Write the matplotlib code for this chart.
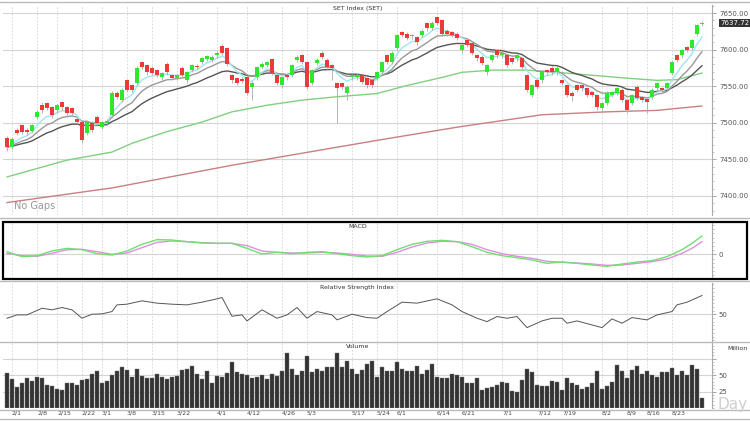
import matplotlib
matplotlib.use("Agg")
import matplotlib.pyplot as plt
import matplotlib.transforms as mtransforms
from matplotlib.patches import Rectangle
from matplotlib.lines import Line2D
from matplotlib.ticker import MultipleLocator
import pandas as pd

# daily candles (one per trading day)
opens = [7479, 7467, 7490, 7497, 7490, 7489, 7508, 7525, 7527, 7521,
         7517, 7528, 7521, 7520, 7505, 7501, 7486, 7500, 7508, 7494,
         7500, 7510, 7541, 7531, 7558, 7551, 7554, 7583, 7579, 7575,
         7572, 7562, 7581, 7565, 7561, 7575, 7558, 7572, 7578, 7583,
         7587, 7586, 7592, 7605, 7602, 7565, 7561, 7560, 7562, 7549,
         7562, 7576, 7579, 7587, 7565, 7551, 7565, 7565, 7586, 7592,
         7583, 7554, 7582, 7596, 7586, 7579, 7554, 7554, 7541, 7562,
         7562, 7565, 7561, 7558, 7561, 7569, 7592, 7583, 7602, 7624,
         7622, 7618, 7617, 7620, 7636, 7630, 7644, 7640, 7626, 7624,
         7622, 7599, 7613, 7609, 7592, 7590, 7569, 7586, 7599, 7592,
         7592, 7588, 7588, 7588, 7565, 7538, 7558, 7558, 7572, 7575,
         7569, 7558, 7551, 7541, 7551, 7551, 7547, 7542, 7538, 7520,
         7527, 7538, 7541, 7545, 7531, 7527, 7549, 7535, 7532, 7535,
         7547, 7547, 7547, 7568, 7592, 7592, 7603, 7602, 7622, 7635]
closes = [7467, 7478, 7486, 7488, 7487, 7497, 7515, 7517, 7520, 7510,
          7524, 7521, 7514, 7513, 7501, 7477, 7501, 7490, 7500, 7501,
          7503, 7541, 7535, 7545, 7545, 7545, 7575, 7576, 7569, 7568,
          7565, 7568, 7569, 7561, 7565, 7565, 7569, 7579, 7576, 7588,
          7591, 7590, 7596, 7596, 7581, 7558, 7554, 7557, 7541, 7555,
          7576, 7581, 7583, 7568, 7554, 7562, 7562, 7579, 7590, 7583,
          7549, 7572, 7586, 7590, 7576, 7575, 7547, 7549, 7549, 7565,
          7566, 7556, 7551, 7551, 7569, 7583, 7583, 7596, 7620, 7620,
          7616, 7620, 7610, 7626, 7629, 7637, 7637, 7622, 7622, 7620,
          7616, 7606, 7606, 7595, 7588, 7582, 7579, 7592, 7592, 7596,
          7579, 7583, 7592, 7576, 7545, 7551, 7549, 7569, 7569, 7569,
          7575, 7554, 7538, 7537, 7545, 7547, 7538, 7538, 7521, 7527,
          7541, 7542, 7547, 7531, 7517, 7538, 7534, 7531, 7529, 7545,
          7554, 7545, 7554, 7583, 7586, 7599, 7600, 7613, 7633, 7637]
highs = [7482, 7481, 7493, 7499, 7493, 7499, 7517, 7528, 7529, 7523,
         7526, 7530, 7523, 7522, 7507, 7503, 7504, 7502, 7510, 7503,
         7505, 7543, 7544, 7547, 7560, 7553, 7577, 7585, 7581, 7577,
         7574, 7570, 7583, 7567, 7567, 7577, 7571, 7581, 7580, 7590,
         7593, 7592, 7598, 7608, 7604, 7567, 7563, 7562, 7564, 7557,
         7578, 7583, 7585, 7589, 7567, 7564, 7567, 7581, 7592, 7594,
         7585, 7574, 7588, 7598, 7588, 7581, 7556, 7556, 7551, 7567,
         7568, 7567, 7563, 7560, 7571, 7585, 7594, 7598, 7622, 7626,
         7624, 7622, 7619, 7628, 7638, 7639, 7646, 7642, 7628, 7626,
         7624, 7608, 7615, 7611, 7594, 7592, 7581, 7594, 7601, 7598,
         7594, 7590, 7594, 7590, 7567, 7553, 7560, 7571, 7574, 7577,
         7577, 7560, 7553, 7543, 7553, 7553, 7549, 7544, 7540, 7529,
         7543, 7544, 7549, 7547, 7533, 7540, 7551, 7537, 7534, 7547,
         7556, 7549, 7556, 7585, 7594, 7601, 7605, 7615, 7635, 7639]
lows = [7462, 7464, 7483, 7485, 7484, 7486, 7505, 7514, 7517, 7507,
        7514, 7518, 7511, 7510, 7498, 7473, 7483, 7487, 7497, 7491,
        7497, 7507, 7532, 7528, 7542, 7542, 7551, 7573, 7566, 7565,
        7562, 7559, 7566, 7558, 7558, 7562, 7555, 7569, 7573, 7580,
        7584, 7583, 7589, 7593, 7578, 7555, 7551, 7554, 7538, 7531,
        7559, 7573, 7576, 7565, 7551, 7548, 7559, 7562, 7583, 7580,
        7546, 7551, 7579, 7587, 7573, 7558, 7500, 7546, 7531, 7559,
        7559, 7553, 7548, 7548, 7558, 7566, 7580, 7580, 7599, 7617,
        7613, 7615, 7607, 7617, 7626, 7627, 7634, 7619, 7619, 7617,
        7613, 7596, 7603, 7592, 7585, 7579, 7566, 7583, 7589, 7589,
        7576, 7580, 7585, 7573, 7542, 7535, 7546, 7555, 7566, 7566,
        7566, 7551, 7535, 7530, 7542, 7544, 7535, 7535, 7518, 7517,
        7524, 7535, 7538, 7528, 7514, 7524, 7531, 7528, 7513, 7532,
        7544, 7542, 7544, 7565, 7583, 7589, 7597, 7599, 7619, 7632]

# volume in millions
volume = [53.5, 43.5, 32, 37.5, 46, 41, 47.5, 46, 34.5, 33.5,
          29.5, 27, 38.5, 38.5, 34.5, 42.5, 43.5, 52, 56, 38.5,
          41, 50, 56, 62.5, 57.5, 47.5, 59.5, 48.5, 46, 45,
          52, 47.5, 44.5, 47, 48.5, 57.5, 59.5, 64.5, 52.5, 43.5,
          56, 37.5, 48.5, 47, 53.5, 70, 55.5, 52.5, 50, 46,
          47, 50, 44.5, 52, 49.5, 57, 84.5, 59.5, 51, 56,
          78.5, 55, 59.5, 56, 62.5, 62.5, 84.5, 62.5, 72, 59.5,
          52, 57.5, 67.5, 71, 47.5, 62.5, 56, 56, 70, 59.5,
          56, 57, 64.5, 52, 58.5, 67.5, 47, 46, 46, 52,
          51, 47.5, 38.5, 38.5, 45, 27, 31, 32.5, 34.5, 39.5,
          38.5, 25.5, 25, 42.5, 59.5, 54.5, 35, 33.5, 33.5, 41,
          39.5, 28, 45, 37.5, 34.5, 29.5, 32.5, 37.5, 56, 29.5,
          33.5, 39.5, 65, 56, 46, 58.5, 64.5, 52.5, 57, 50,
          47, 55, 55, 61, 51, 57, 51, 65, 59.5, 15]

# long moving averages (50 / 200 day) read at a few points
ma50_bar = [0, 12, 21, 25, 32, 39, 45, 52, 59, 65, 74, 80, 87, 91, 97, 104, 110, 117, 124, 130, 134, 139]
ma50_val = [7426, 7449, 7460, 7472, 7488, 7501, 7515, 7524, 7531, 7535, 7540, 7551, 7562, 7569, 7572,
            7572, 7569, 7565, 7561, 7558, 7559, 7568]
ma200_bar = [0, 21, 45, 74, 90, 107, 120, 130, 139]
ma200_val = [7391, 7411, 7442, 7476, 7494, 7511, 7515, 7517, 7523]

# MACD panel
macd_bar = [0, 3, 6, 9, 12, 15, 18, 21, 24, 27, 30, 33, 36, 39, 42, 45, 48, 51, 54, 57, 60, 63, 66, 69,
            72, 75, 78, 81, 84, 87, 90, 93, 96, 99, 102, 105, 108, 111, 114, 117, 120, 123, 126, 129,
            132, 135, 137, 139]
macd_val = [3.2, -2.8, -1.6, 4.0, 7.2, 5.6, 0.8, -0.8, 4.0, 12.0, 17.6, 17.2, 15.2, 13.6, 13.2, 13.2,
            7.2, 0.4, 2.4, 0.8, 2.4, 3.2, 0.8, -1.6, -3.2, -1.6, 5.6, 12.0, 15.6, 16.8, 15.2, 9.2,
            2.4, -1.6, -4.0, -6.8, -10.8, -9.2, -10.8, -12.8, -14.4, -11.6, -9.2, -7.6, -2.8, 5.6,
            13.2, 22.0]
signal_val = [1.2, -1.6, -2.4, 1.2, 5.6, 6.0, 3.2, 0.0, 1.6, 8.0, 14.4, 16.0, 15.2, 14.0, 13.2, 13.2,
              10.4, 4.0, 2.4, 1.6, 1.6, 2.4, 1.6, 0.0, -2.0, -2.4, 2.4, 8.8, 13.6, 15.6, 15.2, 12.0,
              5.6, 0.8, -2.4, -4.8, -8.4, -9.6, -10.4, -11.6, -13.2, -12.8, -10.8, -8.8, -5.6, 1.2,
              7.2, 15.2]

# RSI panel
rsi_bar = [0, 2, 4, 7, 9, 11, 13, 15, 17, 19, 21, 22, 24, 27, 30, 33, 36, 39, 42, 43, 45, 47, 48,
           51, 54, 56, 58, 60, 62, 65, 66, 69, 72, 74, 76, 79, 82, 86, 89, 91, 94, 96, 98, 100, 102,
           104, 107, 109, 111, 112, 114, 117, 119, 121, 123, 125, 128, 130, 133, 134, 136, 139]
rsi_val = [44.6, 49.1, 49.1, 58.1, 55.9, 59.0, 55.9, 44.6, 50.0, 50.5, 53.6, 62.6, 63.5, 68.0, 64.9,
           63.5, 62.6, 66.2, 70.7, 72.5, 47.3, 49.1, 41.0, 55.9, 44.6, 49.1, 59.0, 44.6, 53.6, 49.1,
           42.4, 50.0, 45.5, 44.6, 53.6, 66.2, 64.9, 70.7, 62.6, 53.6, 44.6, 40.1, 46.9, 44.6, 46.9,
           32.0, 41.0, 44.6, 44.6, 37.9, 41.0, 35.6, 32.0, 43.7, 37.9, 45.5, 42.4, 49.1, 53.6, 62.6,
           66.2, 75.2]

# date ticks (bar index) and their labels
tick_bars = [1, 6, 10, 15, 19, 24, 29, 34, 42, 48, 55, 60, 69, 74, 78, 86, 91, 99, 106, 111, 119, 124, 128, 133]
tick_labels = ["2/1", "2/8", "2/15", "2/22", "3/1", "3/8", "3/15", "3/22", "4/1", "4/12", "4/26", "5/3",
               "5/17", "5/24", "6/1", "6/14", "6/21", "7/1", "7/12", "7/19", "8/2", "8/9", "8/16", "8/23"]

last_price = "7637.72"

W, H = 750, 422
fig = plt.figure(figsize=(7.5, 4.22), dpi=100)
fig.patch.set_facecolor("white")

def px_axes(top, bottom):
    # axes in pixel rows of the reference picture
    return fig.add_axes([3 / W, 1 - bottom / H, (712 - 3) / W, (bottom - top) / H])

ax_p = px_axes(5, 215)
ax_m = px_axes(222, 278)
ax_r = px_axes(283, 341)
ax_v = px_axes(343, 408)

grid_col = "#d4d4d4"
lab_col = "#555555"

for ax in (ax_p, ax_m, ax_r, ax_v):
    ax.set_xlim(-0.8, 141)
    for s in ("left", "top", "bottom"):
        ax.spines[s].set_visible(False)
    ax.spines["right"].set_color("#aaaaaa")
    ax.spines["right"].set_linewidth(0.8)
    ax.yaxis.tick_right()
    ax.tick_params(axis="y", which="major", length=3, width=0.6, color="#999999",
                   labelsize=5, labelcolor=lab_col, pad=2)
    ax.tick_params(axis="y", which="minor", length=1.5, width=0.5, color="#aaaaaa")
    ax.tick_params(axis="x", length=0, labelbottom=False)
    ax.set_xticks(tick_bars)
    ax.grid(axis="x", color=grid_col, linestyle=(0, (2, 2)), linewidth=0.6)
    ax.grid(axis="y", color=grid_col, linestyle="-", linewidth=0.8)
    ax.set_axisbelow(True)

# ---- price panel ----
df = pd.DataFrame({"o": opens, "c": closes, "h": highs, "l": lows})
df["ma5"] = df["c"].ewm(span=5, adjust=False).mean()
df["ma10"] = df["c"].ewm(span=10, adjust=False).mean()
df["ma20"] = df["c"].ewm(span=20, adjust=False).mean()
xs = list(range(len(df)))

ax_p.plot(ma200_bar, ma200_val, color="#c98080", lw=1.0)
ax_p.plot(ma50_bar, ma50_val, color="#80d080", lw=1.0)
ax_p.plot(xs, df["ma20"], color="#555555", lw=1.0)
ax_p.plot(xs, df["ma10"], color="#999999", lw=1.0)
ax_p.plot(xs, df["ma5"], color="#9fe6f0", lw=1.0)

ax_p.vlines(xs, df["l"], df["h"], color="#aaaaaa", lw=0.6, zorder=3)
up = df["c"] >= df["o"]
body_bottom = df[["o", "c"]].min(axis=1)
body_h = (df["c"] - df["o"]).abs().clip(lower=1.0)
colors = ["#2ee82e" if u else "#ec3a3a" for u in up]
ax_p.bar(xs, body_h, bottom=body_bottom, width=0.65, color=colors, zorder=4, linewidth=0)

ax_p.set_ylim(7374, 7661)
ax_p.set_yticks([7400, 7450, 7500, 7550, 7600, 7650])
ax_p.set_yticklabels([f"{v:.2f}" for v in [7400, 7450, 7500, 7550, 7600, 7650]])
ax_p.yaxis.set_minor_locator(MultipleLocator(10))
ax_p.text(0.5, 0.995, "SET Index (SET)", transform=ax_p.transAxes, ha="center", va="top",
          fontsize=4.5, color="#333333")
ax_p.text(0.015, 0.02, "No Gaps", transform=ax_p.transAxes, ha="left", va="bottom",
          fontsize=7, color="#999999")
trans = mtransforms.blended_transform_factory(ax_p.transAxes, ax_p.transData)
ax_p.text(1.012, closes[-1], last_price, transform=trans, ha="left", va="center", fontsize=5,
          color="white", bbox=dict(boxstyle="square,pad=0.15", fc="#333333", ec="none"))

# ---- MACD panel ----
ax_m.plot(macd_bar, signal_val, color="#e08ee0", lw=1.0)
ax_m.plot(macd_bar, macd_val, color="#6ee06e", lw=1.0)
ax_m.set_ylim(-28.4, 38.8)
ax_m.set_yticks([0])
ax_m.set_yticklabels(["0"])
ax_m.yaxis.set_minor_locator(MultipleLocator(5))
ax_m.text(0.5, 0.96, "MACD", transform=ax_m.transAxes, ha="center", va="top",
          fontsize=4.5, color="#333333")

# ---- RSI panel ----
ax_r.plot(rsi_bar, rsi_val, color="#555555", lw=0.7)
ax_r.set_ylim(14, 92)
ax_r.set_yticks([50])
ax_r.set_yticklabels(["50"])
ax_r.yaxis.set_minor_locator(MultipleLocator(5))
ax_r.text(0.5, 0.96, "Relative Strength Index", transform=ax_r.transAxes, ha="center", va="top",
          fontsize=4.5, color="#333333")

# ---- volume panel ----
ax_v.bar(xs, volume, width=0.8, color="#333333", edgecolor="#777777", linewidth=0.3)
ax_v.set_ylim(0, 99)
ax_v.set_yticks([25, 50, 75])
ax_v.set_yticklabels(["25", "50", ""])
ax_v.yaxis.set_minor_locator(MultipleLocator(5))
ax_v.text(0.5, 0.98, "Volume", transform=ax_v.transAxes, ha="center", va="top",
          fontsize=4.5, color="#333333")
ax_v.tick_params(axis="x", labelbottom=True, labelsize=4.5, labelcolor="#444444", pad=2)
ax_v.set_xticklabels(tick_labels, ha="left")

fig.text(737 / W, 1 - 348 / H, "Million", ha="center", va="center", fontsize=4.5, color="#333333")
fig.text(748 / W, 1 - 405 / H, "Day", ha="right", va="center", fontsize=11, color="#cfcfcf")

# panel frames
for y in (2, 218, 281, 342, 410, 419):
    fig.add_artist(Line2D([0, 1], [1 - y / H, 1 - y / H], transform=fig.transFigure,
                          color="#bbbbbb", lw=1.0))
fig.add_artist(Rectangle((3 / W, 1 - 279 / H), 744 / W, 57 / H, transform=fig.transFigure,
                         fill=False, ec="black", lw=1.6))

fig.savefig("out.png", dpi=100)
